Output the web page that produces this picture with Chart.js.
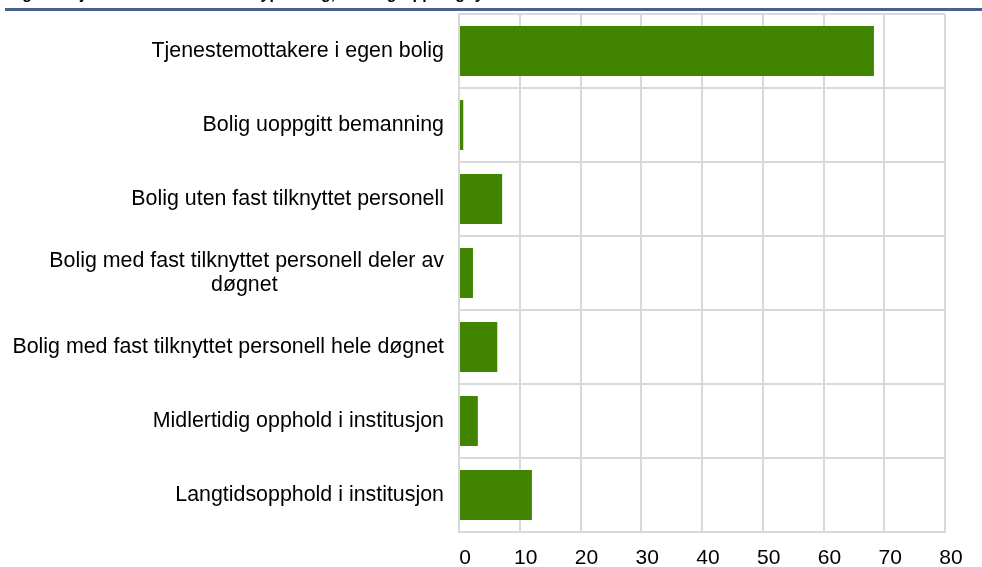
<!DOCTYPE html>
<html lang="no">
<head>
<meta charset="utf-8">
<title>Tjenestemottakere etter bo-/oppholdsform</title>
<script src="https://cdn.jsdelivr.net/npm/chart.js@4/dist/chart.umd.min.js"></script>
<style>
    html, body { margin: 0; padding: 0; background: #fff; }
    #wrap { width: 982px; height: 567px; position: relative; }
</style>
</head>
<body>
<div id="wrap"><canvas id="boligChart"></canvas></div>
<script>
// Kategorier (ovenfra og ned) og verdier i prosent
const kategorier = [
    'Tjenestemottakere i egen bolig',
    'Bolig uoppgitt bemanning',
    'Bolig uten fast tilknyttet personell',
    ['Bolig med fast tilknyttet personell deler av', 'døgnet'],
    'Bolig med fast tilknyttet personell hele døgnet',
    'Midlertidig opphold i institusjon',
    'Langtidsopphold i institusjon'
];
const verdier = [68.3, 0.7, 7.1, 2.3, 6.3, 3.1, 12.0];
const xTicks = [0, 10, 20, 30, 40, 50, 60, 70, 80];

const tittel = 'Figur 3. Tjenestemottakere etter type bolig, aldersgruppe og fylke. Prosent';

const GRID = '#d9d9d9';
const FONT = "'Liberation Sans', Arial, sans-serif";
const LABEL_SIZE = 21.4;

// Sentrerer korte linjer i en etikett med flere linjer (legger på mellomrom bak)
function sentrer(linjer) {
    if (!Array.isArray(linjer)) return linjer;
    const m = document.createElement('canvas').getContext('2d');
    m.font = LABEL_SIZE + 'px ' + FONT;
    const maks = Math.max(...linjer.map(l => m.measureText(l).width));
    const mellomrom = m.measureText('\u00a0').width;
    return linjer.map(l => {
        const n = Math.round((maks - m.measureText(l).width) / 2 / mellomrom);
        return l + '\u00a0'.repeat(n);
    });
}

// Tittel (delvis utenfor bildet) og blå linje under
const tittelPlugin = {
    id: 'tittelPlugin',
    afterDraw(chart) {
        const ctx = chart.ctx;
        ctx.save();
        ctx.fillStyle = '#000';
        ctx.font = 'bold 16px ' + FONT;
        ctx.textBaseline = 'alphabetic';
        ctx.fillText(tittel, 8, -1);
        ctx.fillStyle = '#47628f';
        ctx.fillRect(5, 8, chart.width - 5, 3);
        ctx.restore();
    }
};

const ctx = document.getElementById('boligChart').getContext('2d');
new Chart(ctx, {
    type: 'bar',
    data: {
        labels: kategorier.map(sentrer),
        datasets: [{
            data: verdier,
            backgroundColor: '#408400',
            borderWidth: 0,
            barPercentage: 0.676,
            categoryPercentage: 1
        }]
    },
    options: {
        indexAxis: 'y',
        responsive: true,
        maintainAspectRatio: false,
        animation: false,
        layout: { padding: { top: 14, right: 37, bottom: 0, left: 0 } },
        plugins: {
            legend: { display: false },
            tooltip: { enabled: false }
        },
        scales: {
            x: {
                min: 0,
                max: 80,
                afterBuildTicks: (scale) => {
                    scale.ticks = xTicks.map(v => ({ value: v }));
                },
                afterFit: (scale) => {
                    scale.height = 35;
                    scale.paddingLeft = 0;
                    scale.paddingRight = 0;
                },
                grid: { color: GRID, lineWidth: 2, drawTicks: false },
                border: { color: GRID, width: 2 },
                ticks: {
                    color: '#000',
                    padding: 14,
                    labelOffset: 6,
                    font: { family: FONT, size: 21 }
                }
            },
            y: {
                afterFit: (scale) => {
                    scale.width = 459;
                    scale.paddingTop = 0;
                    scale.paddingBottom = 0;
                },
                grid: { color: GRID, lineWidth: 2, offset: true, drawTicks: false },
                border: { color: GRID, width: 2 },
                ticks: {
                    color: '#000',
                    padding: 15,
                    font: { family: FONT, size: LABEL_SIZE, lineHeight: 1.12 }
                }
            }
        }
    },
    plugins: [tittelPlugin]
});
</script>
</body>
</html>
